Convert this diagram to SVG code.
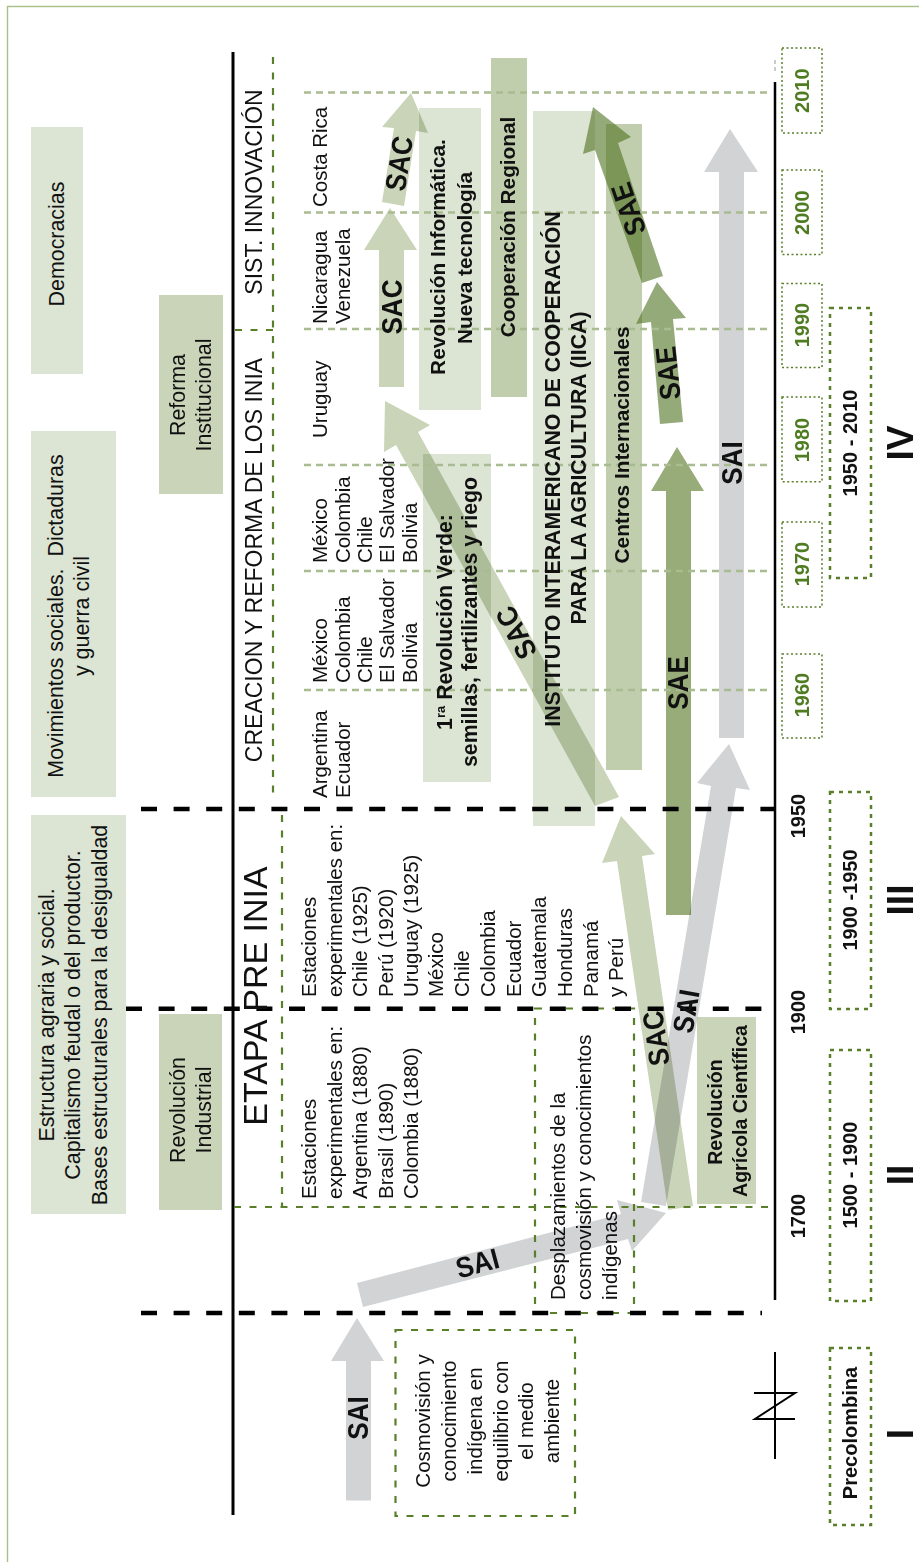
<svg xmlns="http://www.w3.org/2000/svg" width="919" height="1562" viewBox="0 0 919 1562">
<style>
text{font-family:"Liberation Sans",Arial,sans-serif;fill:#111}
.r{font-size:20.5px}
.c{font-size:21.4px}
.m{text-anchor:middle}
.bx{font-size:20.8px;font-weight:bold;text-anchor:middle}
.bz{font-size:21.3px;font-weight:bold;text-anchor:middle}
.bs{font-size:19.6px;font-weight:bold;text-anchor:middle}
.lab{font-size:29px;font-weight:bold;text-anchor:middle}
.y{font-size:20px;font-weight:bold;fill:#4f7c20;text-anchor:middle}
.yk{font-size:20px;font-weight:bold;text-anchor:middle}
.num{font-size:37px;font-weight:bold;text-anchor:middle}
.l1{fill:#dce4d3}.l2{fill:#c9d4b9}.l3{fill:#c0cead}
.ax{stroke:#000;fill:none}
.bd{stroke:#000;stroke-width:4.6;stroke-dasharray:16 16.6;fill:none}
.gd{stroke:#5a7f2a;stroke-width:2.2;stroke-dasharray:7 8.5;fill:none}
.ld{stroke:#a9bb90;stroke-width:2.5;stroke-dasharray:7 5;fill:none}
.yb{stroke:#5a7f2a;stroke-width:1.5;stroke-dasharray:2 2.5;fill:none}
.pb{stroke:#5a7f2a;stroke-width:2.5;stroke-dasharray:4 5;fill:none}
.ga{fill:#d1d3d4;mix-blend-mode:multiply}
.sc{fill:#c9d4b9;mix-blend-mode:multiply}
.se{fill:#4f7220;fill-opacity:.6}
.sf{fill:#97ac78;mix-blend-mode:multiply}
</style>
<rect x="7.500" y="6.500" width="930" height="1580" fill="none" stroke="#a9bf88" stroke-width="1.400"/>

<g id="context-boxes">
<g id="democracias"><rect class="l1" x="31" y="127" width="52" height="247"/><text class="c m" transform="translate(64,244) rotate(-90)">Democracias</text></g>
<g id="movimientos"><rect class="l1" x="31" y="431" width="85" height="366"/><text class="c m" transform="translate(63,616) rotate(-90)">Movimientos sociales.&#160; Dictaduras</text><text class="c m" transform="translate(89,616) rotate(-90)">y guerra civil</text></g>
<g id="estructura"><rect class="l1" x="31" y="815" width="95" height="399"/><text class="c m" transform="translate(54,1015) rotate(-90)">Estructura agraria y social.</text><text class="c m" transform="translate(80,1015) rotate(-90)">Capitalismo feudal o del productor.</text><text class="c m" transform="translate(106.500,1015) rotate(-90)">Bases estructurales para la desigualdad</text></g>
<g id="reforma"><rect class="l2" x="159" y="295" width="64" height="199"/><text class="c m" transform="translate(185,395) rotate(-90)">Reforma</text><text class="c m" transform="translate(211,395) rotate(-90)">Institucional</text></g>
<g id="rev-industrial"><rect class="l2" x="159" y="1014" width="63" height="196"/><text class="c m" transform="translate(185,1110) rotate(-90)">Revolución</text><text class="c m" transform="translate(211,1110) rotate(-90)">Industrial</text></g>
<g id="rev-informatica"><rect class="l1" x="419" y="108" width="62" height="302"/></g>
<g id="coop-regional"><rect class="l3" x="491" y="58" width="36" height="339"/></g>
<g id="iica"><rect class="l1" x="533" y="111" width="62" height="715"/></g>
<g id="centros"><rect class="l3" x="606" y="124" width="36" height="646"/></g>
<g id="rev-verde"><rect class="l1" x="423" y="454" width="68" height="328"/></g>
<g id="rev-agricola"><rect class="l2" x="697" y="1017" width="59" height="187"/></g>
</g>

<g id="connectors">
<polygon class="ga" points="346,1500.500 346,1361 331,1361 357,1318 384,1361 371,1361 371,1500.500"/>
<polygon class="ga" points="357,1283 621,1214 617,1200 666,1213 632,1251 628,1239 363,1307"/>
<polygon class="sc" points="668,1210 617,861 602,863 621,816 655,854 642,856 693,1206"/>
<polygon class="ga" points="641,1202 711,786 697,783 729,744 750,790 736,788 666,1206"/>
<polygon class="sf" points="666,915 666,491 651,491 677,447 704,491 691,491 691,915"/>
<polygon class="ga" points="719,738 719,172 704,172 730,129 758,172 744,172 744,738"/>
<polygon class="se" points="660,424 651,322 636,324 657,282 686,318 673,319 683,422"/>
<polygon class="se" points="642,283 595,150 583,154 593,107 631,137 618,143 663,276"/>
<polygon class="sc" points="379,387 379,250 364,250 390,208 417,250 404,250 404,387"/>
<polygon class="sc" points="382,202 394,128 382,127 411,93 428,133 416,131 404,206"/>
<polygon class="sc" points="595,806 396,445 384,452 385,401 430,425 418,432 619,797"/>
</g>

<g id="guides">
<line class="ax" stroke-width="3" x1="233" y1="52" x2="233" y2="1515"/>
<line class="ax" stroke-width="2.500" x1="775" y1="82" x2="775" y2="1300"/>
<line x1="775" y1="60" x2="775" y2="74" stroke="#bbb" stroke-width="1.500" stroke-dasharray="4 3"/>
<line class="ax" stroke-width="2" x1="775" y1="1352" x2="775" y2="1459"/>
<polyline class="ax" stroke-width="2" points="754,1393 795,1393 755,1419 795,1419"/>
<line class="gd" x1="273" y1="57" x2="273" y2="798"/>
<line class="gd" x1="235" y1="330" x2="273" y2="330"/>
<line class="gd" x1="282" y1="815" x2="282" y2="1207"/>
<line class="gd" x1="234" y1="1207" x2="775" y2="1207"/>
<rect class="gd" x="535" y="1008.500" width="99" height="304.500"/>
<rect class="gd" x="395.500" y="1330" width="179.500" height="186"/>
<line class="ld" x1="304" y1="92.500" x2="768" y2="92.500"/>
<line class="ld" x1="304" y1="212.500" x2="768" y2="212.500"/>
<line class="ld" x1="304" y1="329" x2="768" y2="329"/>
<line class="ld" x1="304" y1="465" x2="768" y2="465"/>
<line class="ld" x1="304" y1="571" x2="768" y2="571"/>
<line class="ld" x1="304" y1="690" x2="768" y2="690"/>
<line class="bd" x1="141" y1="809" x2="775" y2="809"/>
<line class="bd" x1="126" y1="1008.700" x2="764" y2="1008.700"/>
<line class="bd" x1="141" y1="1313" x2="762" y2="1313"/>
</g>

<g id="stage-titles">
<text style="font-size:23px" class="m" transform="translate(262,192) rotate(-90)">SIST. INNOVACIÓN</text>
<text style="font-size:23px" class="m" transform="translate(262,560) rotate(-90)">CREACION Y REFORMA DE LOS INIA</text>
<text style="font-size:34px" class="m" transform="translate(267,996) rotate(-90)">ETAPA PRE INIA</text>
</g>

<g id="countries">
<text class="r" transform="translate(327,207) rotate(-90)">Costa Rica</text>
<text class="r" transform="translate(327,324) rotate(-90)">Nicaragua</text>
<text class="r" transform="translate(350,324) rotate(-90)">Venezuela</text>
<text class="r" transform="translate(327,438) rotate(-90)">Uruguay</text>
<text class="r" transform="translate(327,563) rotate(-90)">México</text>
<text class="r" transform="translate(350,563) rotate(-90)">Colombia</text>
<text class="r" transform="translate(372,563) rotate(-90)">Chile</text>
<text class="r" transform="translate(394,563) rotate(-90)">El Salvador</text>
<text class="r" transform="translate(417,563) rotate(-90)">Bolivia</text>
<text class="r" transform="translate(327,683) rotate(-90)">México</text>
<text class="r" transform="translate(350,683) rotate(-90)">Colombia</text>
<text class="r" transform="translate(372,683) rotate(-90)">Chile</text>
<text class="r" transform="translate(394,683) rotate(-90)">El Salvador</text>
<text class="r" transform="translate(417,683) rotate(-90)">Bolivia</text>
<text class="r" transform="translate(327,798) rotate(-90)">Argentina</text>
<text class="r" transform="translate(350,798) rotate(-90)">Ecuador</text>
<text class="r" transform="translate(316,997) rotate(-90)">Estaciones</text>
<text class="r" transform="translate(342,997) rotate(-90)">experimentales en:</text>
<text class="r" transform="translate(367,997) rotate(-90)">Chile (1925)</text>
<text class="r" transform="translate(393,997) rotate(-90)">Perú (1920)</text>
<text class="r" transform="translate(418,997) rotate(-90)">Uruguay (1925)</text>
<text class="r" transform="translate(443,997) rotate(-90)">México</text>
<text class="r" transform="translate(469,997) rotate(-90)">Chile</text>
<text class="r" transform="translate(495,997) rotate(-90)">Colombia</text>
<text class="r" transform="translate(521,997) rotate(-90)">Ecuador</text>
<text class="r" transform="translate(546,997) rotate(-90)">Guatemala</text>
<text class="r" transform="translate(572,997) rotate(-90)">Honduras</text>
<text class="r" transform="translate(598,997) rotate(-90)">Panamá</text>
<text class="r" transform="translate(623,997) rotate(-90)">y Perú</text>
<text class="r" transform="translate(316,1199) rotate(-90)">Estaciones</text>
<text class="r" transform="translate(342,1199) rotate(-90)">experimentales en:</text>
<text class="r" transform="translate(367,1199) rotate(-90)">Argentina (1880)</text>
<text class="r" transform="translate(393,1199) rotate(-90)">Brasil (1890)</text>
<text class="r" transform="translate(418,1199) rotate(-90)">Colombia (1880)</text>
<text class="r" transform="translate(565,1300) rotate(-90)">Desplazamientos de la</text>
<text class="r" transform="translate(591,1300) rotate(-90)">cosmovisión y conocimientos</text>
<text class="r" transform="translate(617,1300) rotate(-90)">indígenas</text>
<text class="r m" transform="translate(430,1421) rotate(-90)">Cosmovisión y</text>
<text class="r m" transform="translate(456,1421) rotate(-90)">conocimiento</text>
<text class="r m" transform="translate(482,1421) rotate(-90)">indígena en</text>
<text class="r m" transform="translate(508,1421) rotate(-90)">equilibrio con</text>
<text class="r m" transform="translate(533,1421) rotate(-90)">el medio</text>
<text class="r m" transform="translate(559,1421) rotate(-90)">ambiente</text>
</g>

<g id="bold-labels">
<text class="bx" transform="translate(445,257) rotate(-90)">Revolución Informática.</text>
<text class="bx" transform="translate(472,258) rotate(-90)">Nueva tecnología</text>
<text class="bx" transform="translate(515,227) rotate(-90)">Cooperación Regional</text>
<text class="bz" transform="translate(560,469) rotate(-90)">INSTITUTO INTERAMERICANO DE COOPERACIÓN</text>
<text class="bz" transform="translate(586,468) rotate(-90)">PARA LA AGRICULTURA (IICA)</text>
<text class="bx" transform="translate(629,445) rotate(-90)">Centros Internacionales</text>
<text class="bz" transform="translate(452,622) rotate(-90)">1<tspan font-size="13" dy="-7">ra</tspan><tspan dy="7"> Revolución Verde:</tspan></text>
<text class="bz" transform="translate(477,622) rotate(-90)">semillas, fertilizantes y riego</text>
<text class="bs" transform="translate(722,1112) rotate(-90)">Revolución</text>
<text class="bs" transform="translate(747,1111) rotate(-90)">Agrícola Científica</text>
</g>

<g id="arrow-labels">
<text class="lab" transform="translate(368,1418) rotate(-90) scale(.9,1)">SAI</text>
<text class="lab" transform="translate(480,1273) rotate(-15) scale(.9,1)">SAI</text>
<text class="lab" transform="translate(666,1037) rotate(-98) scale(.9,1)">SAC</text>
<text class="lab" transform="translate(696,1013) rotate(-80) scale(.9,1)">SAI</text>
<text class="lab" transform="translate(688,683) rotate(-90) scale(.9,1)">SAE</text>
<text class="lab" transform="translate(742,463) rotate(-90) scale(.9,1)">SAI</text>
<text class="lab" transform="translate(678,372) rotate(-96) scale(.9,1)">SAE</text>
<text class="lab" transform="translate(638,206) rotate(-109) scale(.9,1)">SAE</text>
<text class="lab" transform="translate(525,628) rotate(-118) scale(.9,1)">SAC</text>
<text class="lab" transform="translate(402,307) rotate(-90) scale(.9,1)">SAC</text>
<text class="lab" transform="translate(409,165) rotate(-81) scale(.9,1)">SAC</text>
</g>

<g id="timeline">
<g id="y2010"><rect class="yb" x="782" y="48" width="40" height="85"/><text class="y" transform="translate(809,90.700) rotate(-90)">2010</text></g>
<g id="y2000"><rect class="yb" x="782" y="170" width="40" height="84.500"/><text class="y" transform="translate(809,212.700) rotate(-90)">2000</text></g>
<g id="y1990"><rect class="yb" x="782" y="283.500" width="40" height="84"/><text class="y" transform="translate(809,325) rotate(-90)">1990</text></g>
<g id="y1980"><rect class="yb" x="782" y="397" width="40" height="84.700"/><text class="y" transform="translate(809,440) rotate(-90)">1980</text></g>
<g id="y1970"><rect class="yb" x="782" y="522" width="40" height="85"/><text class="y" transform="translate(809,564) rotate(-90)">1970</text></g>
<g id="y1960"><rect class="yb" x="782" y="654" width="40" height="84"/><text class="y" transform="translate(809,695) rotate(-90)">1960</text></g>
<text class="yk" transform="translate(805,816) rotate(-90)">1950</text>
<text class="yk" transform="translate(805,1012) rotate(-90)">1900</text>
<text class="yk" transform="translate(805,1216) rotate(-90)">1700</text>
<g id="p4"><rect class="pb" x="830" y="308" width="41" height="270"/><text class="yk" transform="translate(857,443) rotate(-90)">1950 - 2010</text><text class="num" transform="translate(913,443) rotate(-90)">IV</text></g>
<g id="p3"><rect class="pb" x="830" y="792" width="41" height="217"/><text class="yk" transform="translate(857,900) rotate(-90)">1900 -1950</text><text class="num" transform="translate(913,900) rotate(-90)">III</text></g>
<g id="p2"><rect class="pb" x="830" y="1050" width="41" height="251"/><text class="yk" transform="translate(857,1175) rotate(-90)">1500 - 1900</text><text class="num" transform="translate(913,1175) rotate(-90)">II</text></g>
<g id="p1"><rect class="pb" x="830" y="1348" width="41" height="177"/><text class="yk" transform="translate(857,1433) rotate(-90)">Precolombina</text><text class="num" transform="translate(913,1434) rotate(-90)">I</text></g>
</g>
</svg>
